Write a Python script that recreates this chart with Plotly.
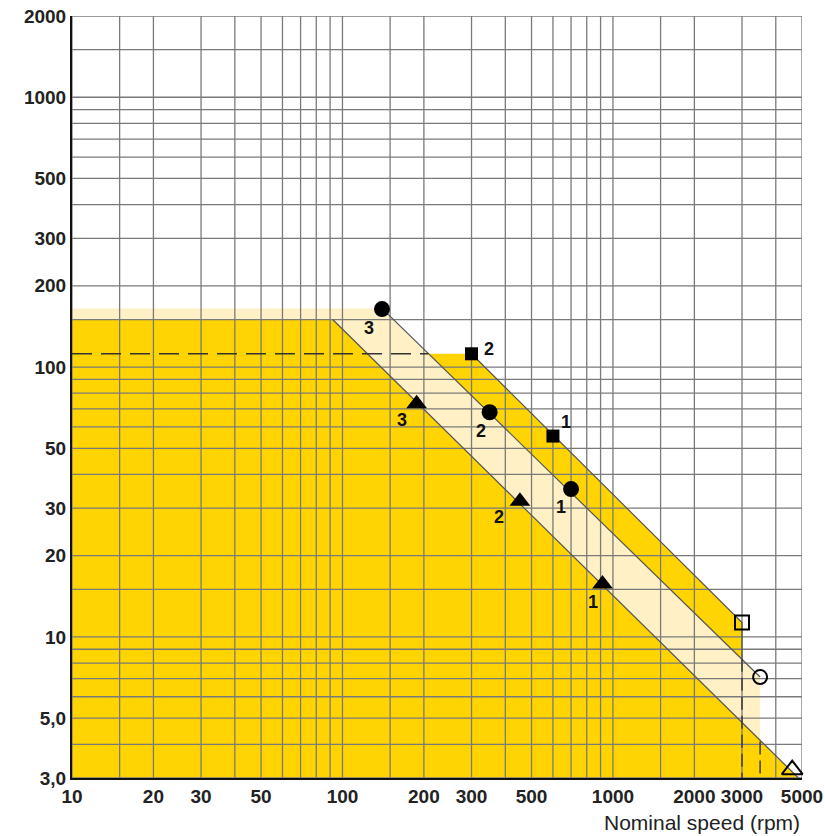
import numpy as np
import plotly.graph_objects as go

# ---- axis grid and labels (speed in rpm, torque) ----
x_grid = [10, 15, 20, 30, 40, 50, 60, 70, 80, 90, 100, 150, 200, 300, 400, 500,
          600, 700, 800, 900, 1000, 1500, 2000, 3000, 4000, 5000]
x_labeled = [10, 20, 30, 50, 100, 200, 300, 500, 1000, 2000, 3000, 5000]

y_grid = [3, 4, 5, 6, 7, 8, 9, 10, 15, 20, 30, 40, 50, 60, 70, 80, 90, 100, 150,
          200, 300, 400, 500, 600, 700, 800, 900, 1000, 1500, 2000]
y_label_text = {2000: "2000", 1000: "1000", 500: "500", 300: "300", 200: "200",
                100: "100", 50: "50", 30: "30", 20: "20", 10: "10", 5: "5,0", 3: "3,0"}

X_MIN, X_MAX = 10, 5000
Y_MIN, Y_MAX = 3, 2000

# ---- operating zones (corner points) ----
outer_zone_x = [10, 300, 3000, 3000, 10]
outer_zone_y = [112, 112, 11.3, 3, 3]
band_zone_x = [10, 140, 3500, 3500, 10]
band_zone_y = [165, 165, 7.1, 3, 3]
base_zone_x = [10, 92, 4850, 10]
base_zone_y = [150, 150, 3, 3]

# boundary lines
upper_edge_x = [140, 3500]
upper_edge_y = [165, 7.1]
lower_edge_x = [92, 4850]
lower_edge_y = [150, 3]
outer_edge_x = [300, 3000, 3000]
outer_edge_y = [112, 11.3, 8.3]
ref_h_x = [10, 208]
ref_h_y = [112, 112]
ref_v1_x = [3000, 3000]
ref_v1_y = [8.3, 3]
ref_v2_x = [3500, 3500]
ref_v2_y = [4.1, 3]

# ---- rated points ----
square_x = [600, 300]
square_y = [55.5, 112]
square_lab = ["1", "2"]
circle_x = [700, 350, 140]
circle_y = [35.3, 68, 164]
circle_lab = ["1", "2", "3"]
triangle_x = [915, 453, 188]
triangle_y = [15.7, 31.8, 73.1]
triangle_lab = ["1", "2", "3"]
open_square = (3000, 11.3)
open_circle = (3500, 7.1)
open_triangle = (4600, 3.22)

GOLD = "#FFD400"
PALE = "#FFF0C6"
GRID = "#7a7a7a"
EDGE = "#555555"


def poly_path(xs, ys):
    pts = [f"{x},{y}" for x, y in zip(xs, ys)]
    return "M" + " L".join(pts) + " Z"


fig = go.Figure()

# zone fills, then the grid drawn over them (both beneath the traces)
shapes = []
for xs, ys, col in [(outer_zone_x, outer_zone_y, GOLD),
                    (band_zone_x, band_zone_y, PALE),
                    (base_zone_x, base_zone_y, GOLD)]:
    shapes.append(dict(type="path", xref="x", yref="y", layer="below",
                       path=poly_path(xs, ys), fillcolor=col,
                       line=dict(width=0)))
for v in x_grid:
    shapes.append(dict(type="line", xref="x", yref="y", layer="below",
                       x0=v, x1=v, y0=Y_MIN, y1=Y_MAX,
                       line=dict(color=GRID, width=1.3)))
for v in y_grid:
    shapes.append(dict(type="line", xref="x", yref="y", layer="below",
                       x0=X_MIN, x1=X_MAX, y0=v, y1=v,
                       line=dict(color=GRID, width=1.3)))

# boundary lines
for xs, ys in [(upper_edge_x, upper_edge_y), (lower_edge_x, lower_edge_y),
               (outer_edge_x, outer_edge_y)]:
    fig.add_trace(go.Scatter(x=xs, y=ys, mode="lines",
                             line=dict(color=EDGE, width=1.2),
                             hoverinfo="skip", showlegend=False))

fig.add_trace(go.Scatter(x=ref_h_x, y=ref_h_y, mode="lines",
                         line=dict(color="#333333", width=1.6, dash="20px,9px"),
                         hoverinfo="skip", showlegend=False))
for xs, ys in [(ref_v1_x, ref_v1_y), (ref_v2_x, ref_v2_y)]:
    fig.add_trace(go.Scatter(x=xs, y=ys, mode="lines",
                             line=dict(color="#333333", width=1.4, dash="13px,6px"),
                             hoverinfo="skip", showlegend=False))

# markers
fig.add_trace(go.Scatter(x=square_x, y=square_y, mode="markers", cliponaxis=False,
                         marker=dict(symbol="square", size=13, color="black"),
                         showlegend=False))
fig.add_trace(go.Scatter(x=circle_x, y=circle_y, mode="markers", cliponaxis=False,
                         marker=dict(symbol="circle", size=16, color="black"),
                         showlegend=False))
fig.add_trace(go.Scatter(x=triangle_x, y=triangle_y, mode="markers", cliponaxis=False,
                         marker=dict(symbol="triangle-up", size=18, color="black"),
                         showlegend=False))
for (px, py), sym, sz in [(open_square, "square-open", 14),
                          (open_circle, "circle-open", 14),
                          (open_triangle, "triangle-up-open", 18)]:
    fig.add_trace(go.Scatter(x=[px], y=[py], mode="markers", cliponaxis=False,
                             marker=dict(symbol=sym, size=sz, color="black",
                                         line=dict(width=2, color="black")),
                             showlegend=False))

# point numbers
annotations = []
label_font = dict(family="Liberation Sans", size=18, color="#111111")
offsets = [
    (square_x, square_y, square_lab, [(13, 14), (17, 5)]),
    (circle_x, circle_y, circle_lab, [(-10, -18), (-9, -19), (-13, -19)]),
    (triangle_x, triangle_y, triangle_lab, [(-10, -18), (-21, -16), (-15, -16)]),
]
for xs, ys, labs, offs in offsets:
    for xv, yv, lab, (dx, dy) in zip(xs, ys, labs, offs):
        annotations.append(dict(x=np.log10(xv), y=np.log10(yv), xref="x", yref="y",
                                text=f"<b>{lab}</b>", showarrow=False,
                                xshift=dx, yshift=dy, font=label_font))

annotations.append(dict(x=1.0, y=-0.058, xref="paper", yref="paper",
                        xanchor="right", yanchor="middle", showarrow=False,
                        text="Nominal speed (rpm)",
                        font=dict(family="Liberation Sans", size=21, color="#222222")))

tick_font = dict(family="Liberation Sans", size=19, color="#222222")
x_text = [f"<b>{v}</b>" if v in x_labeled else "" for v in x_grid]
y_text = [f"<b>{y_label_text[v]}</b>" if v in y_label_text else "" for v in y_grid]

fig.update_layout(
    width=825, height=836,
    margin=dict(l=72, r=23, t=16, b=58),
    paper_bgcolor="white", plot_bgcolor="white",
    shapes=shapes, annotations=annotations,
    xaxis=dict(type="log", range=[np.log10(X_MIN), np.log10(X_MAX)], automargin=False,
               tickmode="array", tickvals=x_grid, ticktext=x_text,
               showgrid=False,
               showline=True, linecolor="#111111", linewidth=2,
               ticks="", tickfont=tick_font, zeroline=False),
    yaxis=dict(type="log", range=[np.log10(Y_MIN), np.log10(Y_MAX)], automargin=False,
               tickmode="array", tickvals=y_grid, ticktext=y_text,
               showgrid=False,
               showline=True, linecolor="#111111", linewidth=2,
               ticks="", tickfont=tick_font, zeroline=False),
)

fig.write_html("out.html")
